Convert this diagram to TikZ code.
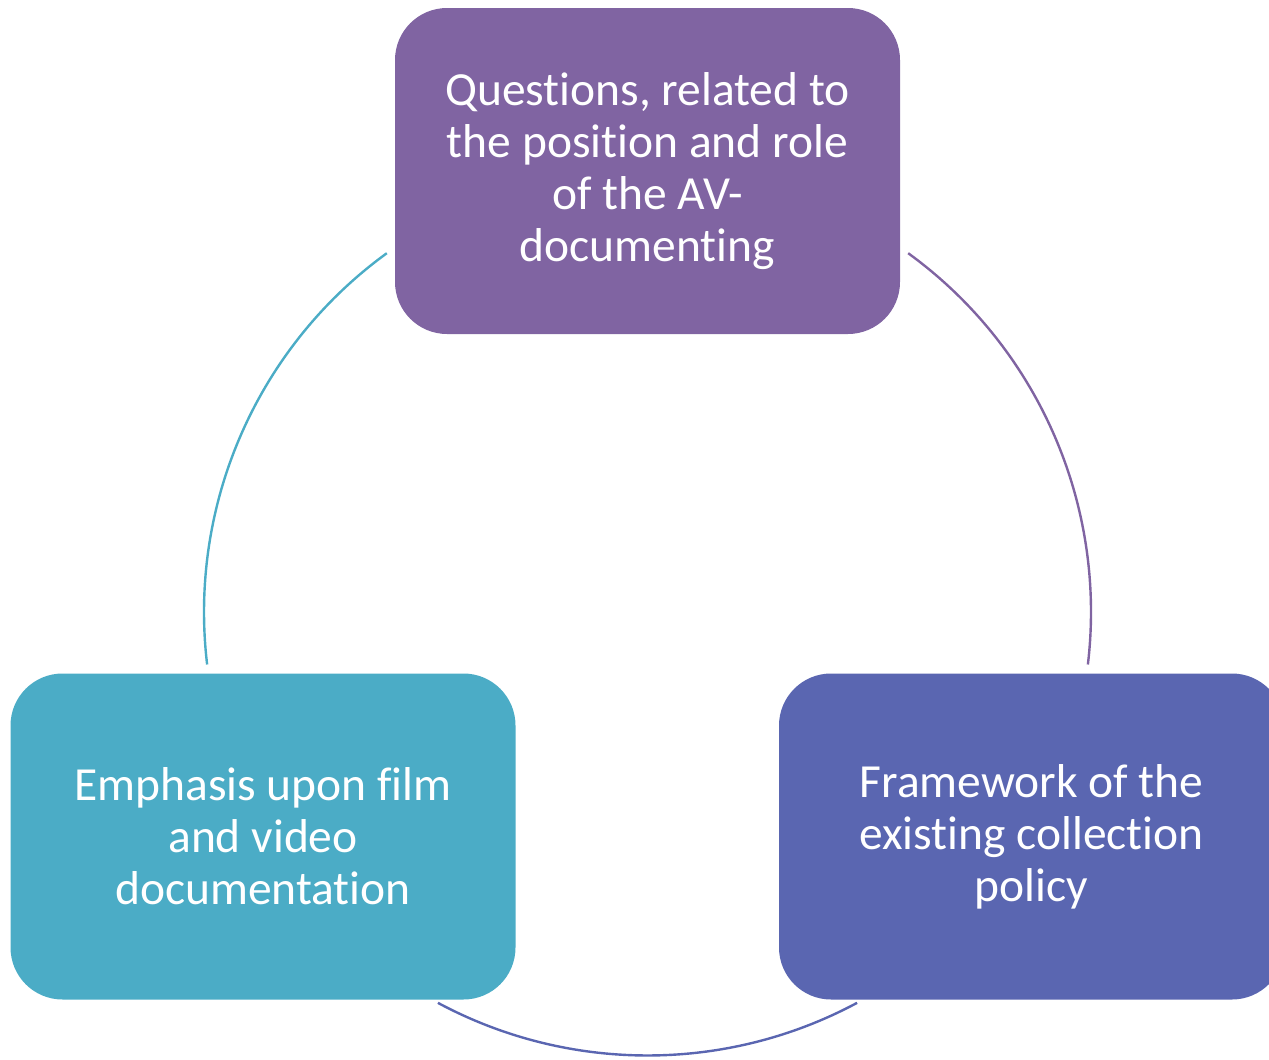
\documentclass[tikz,border=0pt]{standalone}
\usepackage{fontspec}
\setmainfont{Carlito}[Ligatures=NoCommon]
\usetikzlibrary{positioning, calc}
\definecolor{boxpurple}{HTML}{8064A2}
\definecolor{boxteal}{HTML}{4BACC6}
\definecolor{boxblue}{HTML}{5A66B1}

\begin{document}
\begin{tikzpicture}[x=1pt,y=1pt,box/.style={rectangle,rounded
                corners=52pt,minimum width=505pt,minimum height=326pt,align=center,
                text=white,font=\fontsize{47.5}{52}\selectfont},ring/.style={line width=2.4pt}]
                \clip (0,0) rectangle (1269,-1060);
                \coordinate (c) at (647.5,-612);
                \node[box,fill=boxpurple] (questions) at (647.5,-171)
                {Questions, related to\\the position and role\\of the AV-\\documenting};
                \node[box,fill=boxblue] (framework) at (1031.5,-836.5)
                {Framework of the\\existing collection\\policy};
                \node[box,fill=boxteal] (emphasis) at (263,-836.5)
                {Emphasis upon film\\and video\\documentation};
                % ring segments between the boxes
                \draw[ring,boxpurple] ($(c)+(54:443.5)$) arc[start angle=54,end angle=-6.8,radius=443.5];
                \draw[ring,boxblue] ($(c)+(-61.8:443.5)$) arc[start angle=-61.8,end angle=-118.2,radius=443.5];
                \draw[ring,boxteal] ($(c)+(186.8:443.5)$) arc[start angle=186.8,end angle=126,radius=443.5];
            \end{tikzpicture}
\end{document}
